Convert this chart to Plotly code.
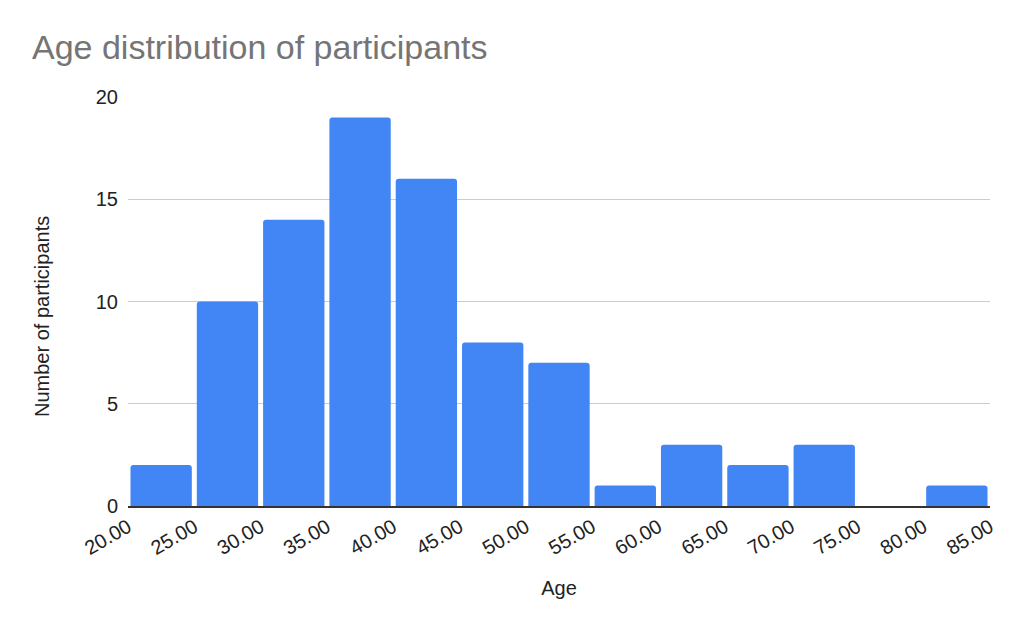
import plotly.graph_objects as go

bin_starts = [20, 25, 30, 35, 40, 45, 50, 55, 60, 65, 70, 75, 80]
bin_size = 5
counts = [2, 10, 14, 19, 16, 8, 7, 1, 3, 2, 3, 0, 1]
x_ticks = [20, 25, 30, 35, 40, 45, 50, 55, 60, 65, 70, 75, 80, 85]
x_tick_labels = [f"{v:.2f}" for v in x_ticks]
y_ticks = [0, 5, 10, 15, 20]

centers = [s + bin_size / 2 for s in bin_starts]

W, H = 1016, 625  # page body has an 8px offset
ML, MR, MT, MB = 120, 34, 89, 127
PW = W - ML - MR
PH = H - MT - MB

fig = go.Figure(go.Bar(
    x=centers, y=counts, width=bin_size * 0.925,
    marker=dict(color="#4285f4", line=dict(width=0)),
))

fig.update_layout(
    width=W, height=H,
    paper_bgcolor="white", plot_bgcolor="white",
    margin=dict(l=ML, r=MR, t=MT, b=MB),
    barcornerradius=3,
    font=dict(family="Liberation Sans, Arial, sans-serif", color="#222222", size=20),
    title=dict(text="Age distribution of participants", x=24/W, xanchor="left",
               xref="container", y=1-39/H, yanchor="middle",
               font=dict(size=34, color="#757575")),
    showlegend=False,
    annotations=[dict(
        text="Number of participants", textangle=-90, showarrow=False,
        xref="paper", yref="paper",
        x=(34 - ML) / PW, y=(PH - (309 - MT)) / PH,
        xanchor="center", yanchor="middle",
        font=dict(size=20, color="#222222"),
    )],
)
fig.update_xaxes(
    range=[20, 85], tickvals=x_ticks, ticktext=x_tick_labels, tickangle=-30,
    showgrid=False, showline=True, linecolor="#333333", linewidth=1.5,
    ticks="", zeroline=False,
    title=dict(text="Age", standoff=23, font=dict(size=20)),
    tickfont=dict(size=20),
)
fig.update_yaxes(
    range=[0, 20], tickvals=y_ticks, showgrid=True, gridcolor="#cccccc", gridwidth=1,
    zeroline=False, showline=False, ticklabelstandoff=9,
    tickfont=dict(size=20),
)

fig.write_html("out.html")
